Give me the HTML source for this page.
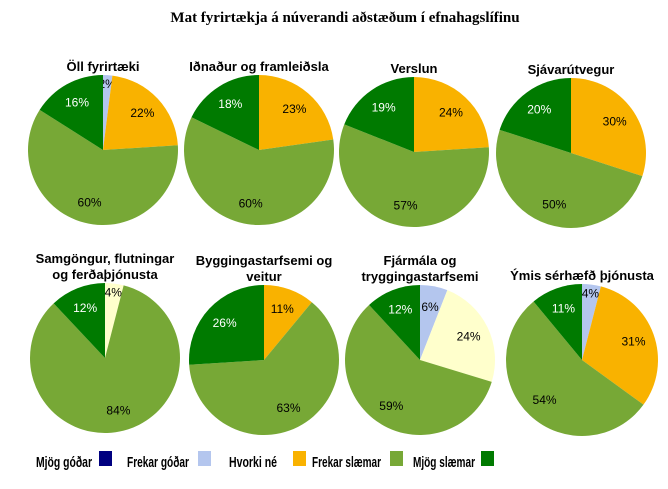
<!DOCTYPE html><html><head><meta charset="utf-8"><style>
body{margin:0;background:#fff;width:668px;height:484px;overflow:hidden}
</style></head><body>
<svg id="s" width="668" height="484" xmlns="http://www.w3.org/2000/svg" font-family="Liberation Sans, sans-serif">
<text x="345" y="22" text-anchor="middle" font-family="Liberation Serif, serif" font-weight="bold" font-size="15">Mat fyrirtækja á núverandi aðstæðum í efnahagslífinu</text>
</svg>
<script>
var C={lb:"#B4C6EE",or:"#F9B200",lg:"#77A836",dg:"#007A00",py:"#FFFFCC",nv:"#000080"};
var pies=[
[103,150,75,["Öll fyrirtæki"],[["lb",2],["or",22],["lg",60],["dg",16]]],
[259,150,75,["Iðnaður og framleiðsla"],[["or",23],["lg",60],["dg",18]]],
[414,152,75,["Verslun"],[["or",24],["lg",57],["dg",19]]],
[571,153,75,["Sjávarútvegur"],[["or",30],["lg",50],["dg",20]]],
[105,358,75,["Samgöngur, flutningar","og ferðaþjónusta"],[["py",4],["lg",84],["dg",12]]],
[264,360,75,["Byggingastarfsemi og","veitur"],[["or",11],["lg",63],["dg",26]]],
[420,360,75,["Fjármála og","tryggingastarfsemi"],[["lb",6],["py",24],["lg",59],["dg",12]]],
[582,360,76,["Ýmis sérhæfð þjónusta"],[["lb",4],["or",31],["lg",54],["dg",11]]]];
var s="";
pies.forEach(function(p){
 var cx=p[0],cy=p[1],r=p[2],tot=0;p[4].forEach(function(d){tot+=d[1]});
 var a=0;
 p[4].forEach(function(d){
  var a1=a+d[1]/tot*2*Math.PI;
  var x0=cx+r*Math.sin(a),y0=cy-r*Math.cos(a),x1=cx+r*Math.sin(a1),y1=cy-r*Math.cos(a1);
  s+='<path d="M'+cx+','+cy+'L'+x0+','+y0+'A'+r+','+r+' 0 '+((a1-a)>Math.PI?1:0)+' 1 '+x1+','+y1+'Z" fill="'+C[d[0]]+'"/>';
  var m=(a+a1)/2,k=d[1]<5?0.88:0.72;
  var lx=cx+r*k*Math.sin(m),ly=cy-r*k*Math.cos(m)+4;
  s+='<text x="'+lx+'" y="'+ly+'" text-anchor="middle" font-size="12" fill="'+(d[0]=="dg"?"#fff":"#000")+'">'+d[1]+'%</text>';
  a=a1;
 });
 var t=p[3];
 t.forEach(function(l,i){s+='<text x="'+cx+'" y="'+(cy-r-4-(t.length-1-i)*16)+'" text-anchor="middle" font-size="13" font-weight="bold">'+l+'</text>';});
});
var L=[["Mjög góðar",36,"nv",99,56],["Frekar góðar",127,"lb",198,62],["Hvorki né",229,"or",293,48],["Frekar slæmar",312,"lg",390,69],["Mjög slæmar",413,"dg",481,62]];
L.forEach(function(l){s+='<text x="'+l[1]+'" y="467" font-size="15" font-weight="bold" textLength="'+l[4]+'" lengthAdjust="spacingAndGlyphs">'+l[0]+'</text><rect x="'+l[3]+'" y="451" width="13" height="15" fill="'+C[l[2]]+'"/>';});
document.getElementById("s").insertAdjacentHTML("beforeend",s);
</script>
</body></html>
